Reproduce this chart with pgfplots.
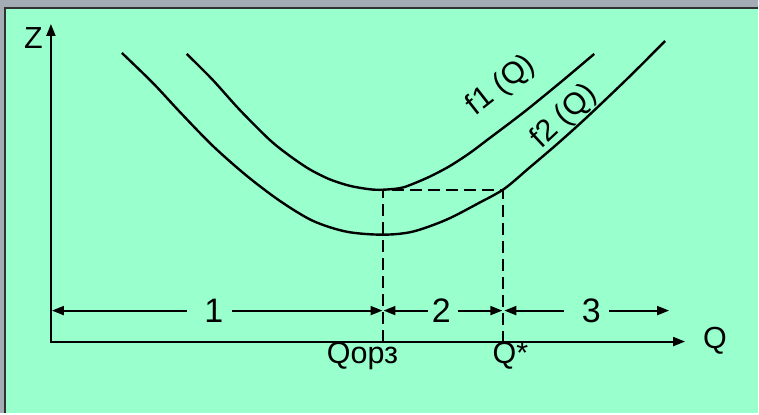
\documentclass[border=0pt]{standalone}
\usepackage{fontspec}
\setmainfont{Liberation Sans}
\usepackage{pgfplots}
\pgfplotsset{compat=1.18}
\usetikzlibrary{arrows.meta}
\definecolor{panel}{HTML}{99FFCC}
\definecolor{frame}{HTML}{A4ACB6}
\definecolor{edge}{HTML}{333333}
\begin{document}
\begin{tikzpicture}
\begin{axis}[width=759pt,height=414pt,scale only axis,hide axis,
  xmin=0,xmax=759,ymin=0,ymax=414,y dir=reverse,clip=false,
  every axis plot/.append style={black,line width=2pt},
  tip/.style={-{Triangle[length=12pt,width=9pt]}}]
% background and panel
\fill[frame] (axis cs:0,0) rectangle (axis cs:759,414);
\fill[panel] (axis cs:5,8) rectangle (axis cs:759,414);
\draw[edge,line width=2pt] (axis cs:5,414) -- (axis cs:5,8) -- (axis cs:759,8);

% axes Z and Q
\addplot[{Triangle[length=12pt,width=9pt]}-{Triangle[length=12pt,width=9pt]}]
  coordinates {(51,24) (51,342) (686,342)};

% f1(Q)
\addplot[smooth,line width=2.4pt] coordinates {
  (187,54) (213,80) (240,110) (270,140) (290,156) (310,169.5) (330,179.5)
  (350,186) (370,189.5) (383,190) (400,188.5) (410,185.5) (430,177) (450,166.5)
  (470,153.5) (490,138.5) (510,123.5) (530,108) (563,81) (595,54)};
% f2(Q)
\addplot[smooth,line width=2.4pt] coordinates {
  (122,53) (153,83) (180,112) (213,146) (247,176) (280,201) (313,221) (347,232)
  (383,235) (413,232) (447,220) (480,203) (505,189) (530,168) (557,145)
  (587,118) (630,77) (666,41)};

% dashed guides
\addplot[line width=2pt,dash pattern=on 12pt off 6pt]
  coordinates {(383,342) (383,190) (504,190) (504,342)};

% interval arrows
\addplot[tip] coordinates {(187,311) (52,311)};
\addplot[tip] coordinates {(232,311) (383,311)};
\addplot[tip] coordinates {(429,311) (384,311)};
\addplot[tip] coordinates {(459,311) (503,311)};
\addplot[tip] coordinates {(565,311) (505,311)};
\addplot[tip] coordinates {(610,311) (670,311)};

\node[font=\fontsize{34}{40}\selectfont] at (axis cs:214,311) {1};
\node[font=\fontsize{34}{40}\selectfont] at (axis cs:442,311) {2};
\node[font=\fontsize{34}{40}\selectfont] at (axis cs:592,311) {3};

\node[font=\fontsize{30.5}{36}\selectfont] at (axis cs:33.5,38) {Z};
\node[font=\fontsize{30.5}{36}\selectfont] at (axis cs:716,341) {Q};
\node[font=\fontsize{30.5}{36}\selectfont,anchor=base] at (axis cs:363,364) {Qорз};
\node[font=\fontsize{30.5}{36}\selectfont,anchor=base] at (axis cs:511,364) {Q*};
\node[font=\fontsize{30.5}{36}\selectfont,rotate=38,inner sep=0pt] at (axis cs:502,86) {f1 (Q)};
\node[font=\fontsize{30.5}{36}\selectfont,rotate=43,inner sep=0pt] at (axis cs:565,117) {f2 (Q)};
\end{axis}
\end{tikzpicture}
\end{document}
